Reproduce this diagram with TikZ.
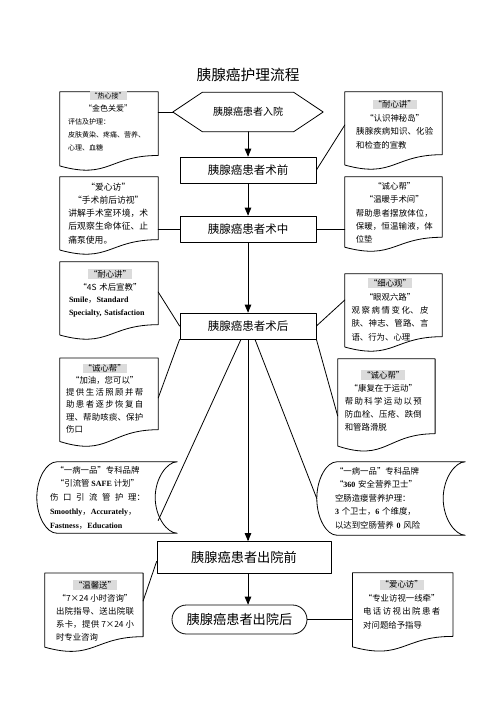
\documentclass[tikz,border=0pt]{standalone}
\usepackage{fontspec}
\usepackage{xcolor}
\usepackage{tikz}
\usetikzlibrary{calc}
\usetikzlibrary{arrows}
\setmainfont{Noto Sans CJK SC}
\newfontfamily\engfont{Liberation Serif}
\XeTeXlinebreaklocale "zh"
\XeTeXlinebreakskip=0pt plus 5pt
\tolerance=9999
\setlength{\parindent}{0pt}
\definecolor{dcdcdc}{rgb}{0.86,0.86,0.86}
\newcommand{\eng}[1]{{\engfont\bfseries\fontsize{8}{13}\selectfont #1}}
\newcommand{\hdr}[1]{{\setlength{\fboxsep}{1pt}\colorbox{dcdcdc}{#1}}}
\newcommand{\ctr}[1]{\centerline{#1}\par}
\newcommand{\docwave}[1]{\draw [shapeline] (#1.north west) -- (#1.north east) -- ($(#1.south east)!0.198!(#1.north east)$) .. controls ($(#1.south)!0.198!(#1.north)$) and ($(#1.south)!-0.107!(#1.north)$) .. ($(#1.south west)!0.066!(#1.north west)$) -- cycle;}
\newcommand{\scrollwave}[1]{\draw [shapeline] ([xshift=20pt]#1.north west) -- (#1.north east) .. controls ([xshift=-10pt]#1.north east) and ($(#1.east)!0.55!(#1.north east)+(-22,0)$) .. ([xshift=-22pt]#1.east) .. controls ($(#1.east)!0.55!(#1.south east)+(-22,0)$) and ([xshift=-10pt]#1.south east) .. (#1.south east) -- ([xshift=20pt]#1.south west) .. controls ([xshift=10pt]#1.south west) and ($(#1.west)!0.55!(#1.south west)$) .. (#1.west) .. controls ($(#1.west)!0.55!(#1.north west)$) and ([xshift=10pt]#1.north west) .. ([xshift=20pt]#1.north west) -- cycle;}
\tikzstyle{every node}=[font=\fontsize{8.4}{13.4}\selectfont]
\tikzstyle{shapeline}=[line width=0.8pt]
\tikzstyle{box}=[draw,line width=0.8pt,minimum width=136pt,minimum height=26pt,inner sep=0pt,font=\fontsize{11.5}{13}\selectfont]
\tikzstyle{docbox}=[inner sep=0pt]
\tikzstyle{doctext}=[inner sep=0pt,align=justify,text width=77pt]

\begin{document}
\begin{tikzpicture}[line cap=round,line join=round,>=triangle 45,x=1.0pt,y=1.0pt]
\clip(0,0) rectangle (496,-702);
\node[font=\fontsize{14.7}{16}\selectfont] (title) at (248,-75) {胰腺癌护理流程};
\node[inner sep=0pt,minimum width=150pt,minimum height=39pt,font=\fontsize{10}{12}\selectfont] (ruyuan) at (248,-112) {胰腺癌患者入院};
\draw [shapeline] (ruyuan.west) -- ([xshift=29.5pt]ruyuan.north west) -- ([xshift=-29.5pt]ruyuan.north east) -- (ruyuan.east) -- ([xshift=-29.5pt]ruyuan.south east) -- ([xshift=29.5pt]ruyuan.south west) -- cycle;
\node[box] (qian) at (248,-170) {胰腺癌患者术前};
\node[box] (zhong) at (248,-229) {胰腺癌患者术中};
\node[box] (hou) at (248,-326) {胰腺癌患者术后};
\node[box,minimum width=174pt,minimum height=32pt,font=\fontsize{13.2}{15}\selectfont] (cyq) at (244,-557.5) {胰腺癌患者出院前};
\node[box,minimum width=135pt,minimum height=29pt,rounded corners=14.5pt,font=\fontsize{13.2}{15}\selectfont] (cyh) at (239.5,-619.5) {胰腺癌患者出院后};
\node[docbox,minimum width=98pt,minimum height=79pt] (jie) at (109,-131.5) {};
\node[docbox,minimum width=97pt,minimum height=78pt] (jiang1) at (393.5,-131) {};
\node[docbox,minimum width=98pt,minimum height=78pt] (fang1) at (109,-216) {};
\node[docbox,minimum width=97pt,minimum height=75pt] (bang1) at (393.5,-214.5) {};
\node[docbox,minimum width=98pt,minimum height=78pt] (jiang2) at (109,-301) {};
\node[docbox,minimum width=97pt,minimum height=78pt] (guan) at (393.5,-313) {};
\node[docbox,minimum width=98pt,minimum height=89pt] (bang2) at (109,-402.7) {};
\node[docbox,minimum width=97pt,minimum height=93pt] (bang3) at (386.4,-405.5) {};
\node[docbox,minimum width=140pt,minimum height=71pt] (liu) at (107,-497.5) {};
\node[docbox,minimum width=148pt,minimum height=73pt] (ying) at (391,-498.5) {};
\node[docbox,minimum width=98pt,minimum height=79pt] (song) at (93.9,-612.7) {};
\node[docbox,minimum width=100pt,minimum height=79pt] (fang2) at (402.7,-612.4) {};
\foreach \n in {jie,jiang1,fang1,bang1,jiang2,guan,bang2,bang3,song,fang2} {\docwave{\n}}
\scrollwave{liu}
\scrollwave{ying}
\node[doctext,text width=80pt,align=left,font=\fontsize{7}{13}\selectfont] (jiet) at (108,-121) {\ctr{\hdr{“热心接”}}\ctr{{\fontsize{8}{13}\selectfont “金色关爱”}}评估及护理：\\皮肤黄染、疼痛、营养、\\心理、血糖};
\node[doctext] (jiang1t) at (394.7,-124.2) {\ctr{\hdr{“耐心讲”}}\ctr{“认识神秘岛”}胰腺疾病知识、化验\linebreak 和检查的宣教};
\node[doctext,text width=80pt,font=\fontsize{8.8}{13.3}\selectfont] (fang1t) at (108.3,-213.3) {\ctr{“爱心访”}\ctr{“手术前后访视”}讲解手术室环境，术\linebreak 后观察生命体征、止\linebreak 痛泵使用。};
\node[doctext] (bang1t) at (394.3,-212.8) {\ctr{“诚心帮”}\ctr{“温暖手术间”}帮助患者摆放体位，\linebreak 保暖，恒温输液，体\linebreak 位垫};
\node[doctext,text width=82pt,align=left,font=\fontsize{8.4}{12.8}\selectfont] (jiang2t) at (110,-293.3) {\ctr{\hdr{“耐心讲”}}\ctr{“4S 术后宣教”}\eng{Smile}，\eng{Standard}\\\eng{Specialty, Satisfaction}};
\node[doctext] (guant) at (390,-309.7) {\ctr{\hdr{“细心观”}}\ctr{“眼观六路”}观察病情变化、皮\linebreak 肤、神志、管路、言\linebreak 语、行为、心理};
\node[doctext,font=\fontsize{8.4}{12.1}\selectfont] (bang2t) at (104.7,-398.2) {\ctr{\hdr{“诚心帮”}}\ctr{“加油，您可以”}提供生活照顾并帮\linebreak 助患者逐步恢复自\linebreak 理、帮助咳痰、保护\linebreak 伤口};
\node[doctext,font=\fontsize{8.4}{13}\selectfont] (bang3t) at (383.3,-400.6) {\ctr{\hdr{“诚心帮”}}\ctr{“康复在于运动”}帮助科学运动以预\linebreak 防血栓、压疮、跌倒\linebreak 和管路滑脱};
\node[doctext,text width=95pt,font=\fontsize{8.4}{13.7}\selectfont] (liut) at (97.5,-497.5) {\ctr{“一病一品”专科品牌}\ctr{“引流管 \eng{SAFE} 计划”}伤口引流管护理：\linebreak \eng{Smoothly}，\eng{Accurately}，\\\eng{Fastness}，\eng{Education}};
\node[doctext,text width=94pt,align=left,font=\fontsize{8.4}{13.5}\selectfont] (yingt) at (382,-498) {“一病一品”专科品牌\\“\eng{360} 安全营养卫士”\\空肠造瘘营养护理：\\\eng{3} 个卫士，\eng{6} 个维度，\\以达到空肠营养 \eng{0} 风险};
\node[doctext,text width=78pt,font=\fontsize{8.4}{13.2}\selectfont] (songt) at (95,-610.8) {\ctr{\hdr{“温馨送”}}\ctr{“7×24 小时咨询”}出院指导、送出院联\linebreak 系卡，提供 7×24 小\linebreak 时专业咨询};
\node[doctext] (fang2t) at (401.7,-604.3) {\ctr{\hdr{“爱心访”}}\ctr{“专业访视一线牵”}电话访视出院患者\linebreak 对问题给予指导};
\draw [->,shapeline] (ruyuan.south) -- (qian.north);
\draw [->,shapeline] (qian.south) -- (zhong.north);
\draw [->,shapeline] (zhong.south) -- (hou.north);
\draw [->,shapeline] (hou.south) -- (hou.south |- cyq.north);
\draw [->,shapeline] (cyq.south -| hou.south) -- (cyh.north -| hou.south);
\draw [shapeline] (ruyuan.west) -- (ruyuan.west -| jie.east);
\draw [shapeline] (qian.east) -- ([yshift=6pt]jiang1.west);
\draw [shapeline] (zhong.west) -- (zhong.west -| fang1.east);
\draw [shapeline] (zhong.east) -- (zhong.east -| bang1.west);
\draw [shapeline] ([yshift=9pt]jiang2.east) -- (hou.west);
\draw [shapeline] (hou.south west) -- ([yshift=4.7pt]bang2.east);
\draw [shapeline] (hou.east) -- ([yshift=13pt]guan.west);
\draw [shapeline] (hou.south east) -- ([yshift=-10.5pt]bang3.west);
\draw [shapeline] ([xshift=-7pt]hou.south) -- ([xshift=-19pt,yshift=-23pt]liu.east);
\draw [shapeline] ([xshift=7pt]hou.south) -- (ying.west);
\draw [shapeline] ([yshift=11.7pt]song.east) -- ([yshift=-4pt]cyq.west);
\draw [shapeline] (cyh.east) -- (cyh.east -| fang2.west);
\end{tikzpicture}
\end{document}
